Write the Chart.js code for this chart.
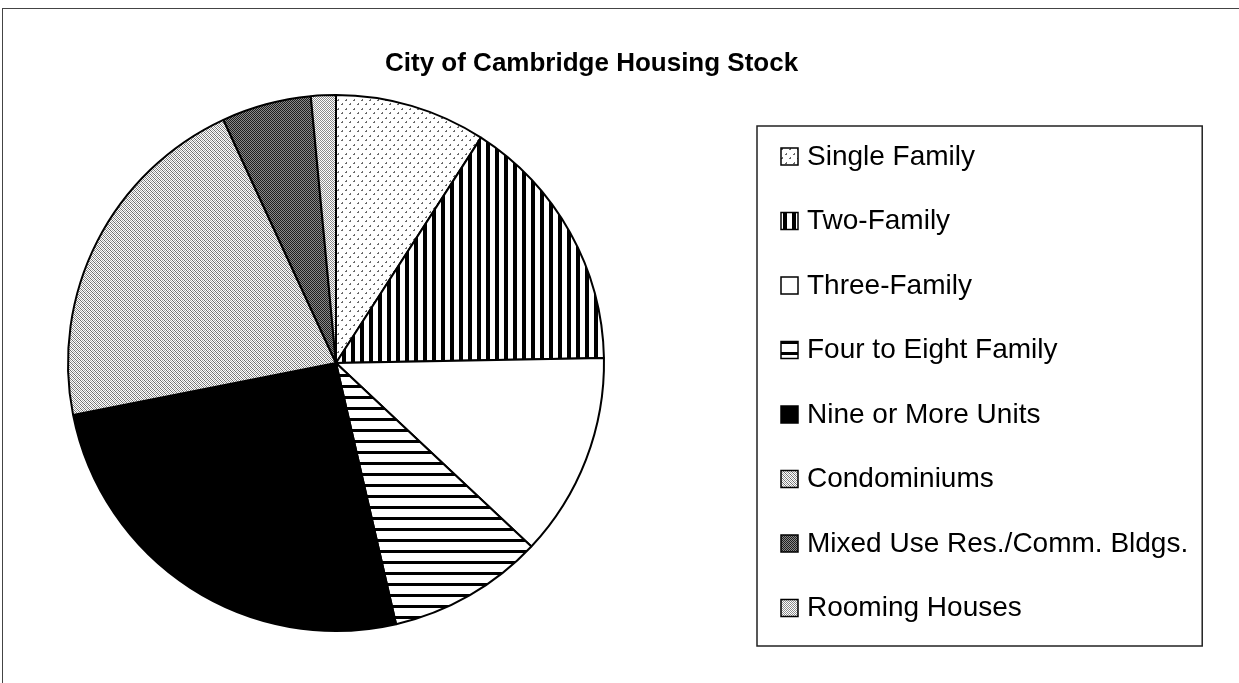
<!DOCTYPE html>
<html>
<head>
<meta charset="utf-8">
<title>City of Cambridge Housing Stock</title>
<script src="https://cdn.jsdelivr.net/npm/chart.js@4.4.0/dist/chart.umd.min.js"></script>
<style>
    html, body { margin: 0; padding: 0; background: #fff; }
    #wrap { position: relative; width: 1239px; height: 683px; overflow: hidden; }
    #frame { position: absolute; left: 2px; top: 8px; right: -5px; bottom: -5px; border-top: 1px solid #444; border-left: 1px solid #444; }
    #title {
        position: absolute; left: 385px; top: 47px; width: 400px; text-align: center;
        font: bold 26px "Liberation Sans", Arial, sans-serif; color: #000; white-space: nowrap;
    }
    #housingChart { position: absolute; left: 0; top: 0; }
</style>
</head>
<body>
<div id="wrap">
    <div id="frame"></div>
    <canvas id="housingChart" width="1239" height="683"></canvas>
    <div id="title">City of Cambridge Housing Stock</div>
</div>
<script>
// values (share of housing stock, %)
const categories = [
    'Single Family',
    'Two-Family',
    'Three-Family',
    'Four to Eight Family',
    'Nine or More Units',
    'Condominiums',
    'Mixed Use Res./Comm. Bldgs.',
    'Rooming Houses'
];
const shares = [9.1, 15.6, 12.3, 9.4, 25.5, 21.2, 5.4, 1.5];

// small tiles that mimic the old b/w print fills
function makePattern(w, h, draw) {
    const c = document.createElement('canvas');
    c.width = w;
    c.height = h;
    const g = c.getContext('2d');
    g.fillStyle = '#fff';
    g.fillRect(0, 0, w, h);
    draw(g);
    return g.createPattern(c, 'repeat');
}

const fills = [
    // single family: sparse little dashes
    makePattern(8, 9, g => {
        g.fillStyle = '#6a6a6a';
        g.fillRect(1, 1, 2, 1);
        g.fillRect(2, 0, 1, 1);
        g.fillRect(5, 5, 2, 1);
        g.fillRect(6, 4, 1, 1);
    }),
    // two-family: vertical stripes
    makePattern(9, 4, g => {
        g.fillStyle = '#000';
        g.fillRect(0, 0, 4, 4);
    }),
    // three-family: plain white
    '#ffffff',
    // four to eight: horizontal lines
    makePattern(4, 11, g => {
        g.fillStyle = '#000';
        g.fillRect(0, 0, 4, 3);
    }),
    // nine or more: solid black
    '#000000',
    // condominiums: light diagonal grey
    makePattern(4, 4, g => {
        g.fillStyle = '#6e6e6e';
        for (let i = 0; i < 4; i++) g.fillRect(i, i, 1, 1);
        g.fillStyle = '#a8a8a8';
        g.fillRect(2, 0, 1, 1); g.fillRect(3, 1, 1, 1);
        g.fillRect(0, 2, 1, 1); g.fillRect(1, 3, 1, 1);
    }),
    // mixed use: dark grey
    makePattern(2, 2, g => {
        g.fillStyle = '#1e1e1e';
        g.fillRect(0, 0, 1, 1); g.fillRect(1, 1, 1, 1);
        g.fillStyle = '#8a8a8a';
        g.fillRect(1, 0, 1, 1); g.fillRect(0, 1, 1, 1);
    }),
    // rooming houses: light grey
    makePattern(2, 2, g => {
        g.fillStyle = '#8c8c8c';
        g.fillRect(0, 0, 1, 1); g.fillRect(1, 1, 1, 1);
    })
];

// legend drawn in a box, like the original
const boxedLegend = {
    id: 'boxedLegend',
    afterDraw(chart, args, opts) {
        const ctx = chart.ctx;
        const ds = chart.data.datasets[0];
        ctx.save();
        ctx.font = opts.font;
        let widest = 0;
        chart.data.labels.forEach(l => { widest = Math.max(widest, ctx.measureText(l).width); });
        const right = opts.textX + widest + opts.padRight;

        ctx.strokeStyle = '#222';
        ctx.lineWidth = 1.5;
        ctx.strokeRect(opts.left, opts.top, right - opts.left, opts.bottom - opts.top);

        ctx.textBaseline = 'middle';
        chart.data.labels.forEach((label, i) => {
            const y = opts.firstRow + i * opts.rowGap;
            ctx.fillStyle = ds.backgroundColor[i];
            ctx.fillRect(opts.markerX, y - 8, 17, 17);
            ctx.lineWidth = 1.5;
            ctx.strokeStyle = '#000';
            ctx.strokeRect(opts.markerX, y - 8, 17, 17);
            ctx.fillStyle = '#000';
            ctx.fillText(label, opts.textX, y + 1);
        });
        ctx.restore();
    }
};

const ctx = document.getElementById('housingChart').getContext('2d');
const housingChart = new Chart(ctx, {
    type: 'pie',
    data: {
        labels: categories,
        datasets: [{
            data: shares,
            backgroundColor: fills,
            borderColor: '#000',
            borderWidth: 2
        }]
    },
    options: {
        responsive: false,
        animation: false,
        layout: {
            padding: { left: 67, right: 634, top: 94, bottom: 51 }
        },
        plugins: {
            legend: { display: false },
            tooltip: { enabled: false },
            title: { display: false },
            boxedLegend: {
                left: 757,
                top: 126,
                bottom: 646,
                markerX: 781,
                textX: 807,
                padRight: 14,
                firstRow: 156,
                rowGap: 64.5,
                font: '28px "Liberation Sans", Arial, sans-serif'
            }
        }
    },
    plugins: [boxedLegend]
});
</script>
</body>
</html>
